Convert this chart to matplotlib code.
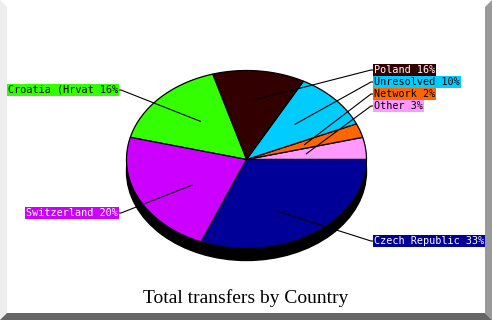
import numpy as np
import matplotlib
matplotlib.use("Agg")
from matplotlib import pyplot as plt
from matplotlib.patches import Polygon, Ellipse

# Slice data, counter-clockwise from 3 o'clock
names = ["Other", "Network", "Unresolved", "Poland", "Croatia (Hrvat", "Switzerland", "Czech Republic"]
values = [3, 2, 10, 16, 16, 20, 33]
colors = ["#ff99ff", "#ff6600", "#00ccff", "#330000", "#33ff00", "#cc00ff", "#000099"]
text_colors = ["black", "black", "black", "white", "black", "white", "white"]

title = "Total transfers by Country"

# Layout (pixel space, y down)
W, H = 492, 320
cx, cy = 246.5, 159.5
rx, ry = 120, 89
depth = 12
label_pos = {
    "Other": (374, 106, "left"),
    "Network": (374, 94, "left"),
    "Unresolved": (374, 82, "left"),
    "Poland": (374, 70, "left"),
    "Croatia (Hrvat": (118, 90, "right"),
    "Switzerland": (118, 213, "right"),
    "Czech Republic": (374, 241, "left"),
}


def ellipse_point(theta, scale=1.0):
    # point on ellipse at screen angle theta (radians)
    r = 1.0 / np.sqrt((np.cos(theta) / rx) ** 2 + (np.sin(theta) / ry) ** 2)
    return cx + scale * r * np.cos(theta), cy - scale * r * np.sin(theta)


fig = plt.figure(figsize=(W / 100, H / 100), dpi=100)
ax = fig.add_axes([0, 0, 1, 1])
ax.set_xlim(0, W)
ax.set_ylim(H, 0)
ax.axis("off")

# Frame bevel
ax.add_patch(Polygon([(0, 0), (7, 7), (7, 313), (0, 320)], closed=True, fc="#eeeeee", ec="none"))
ax.add_patch(Polygon([(W, 0), (W - 7, 7), (W - 7, 313), (W, H)], closed=True, fc="#999999", ec="none"))
ax.add_patch(Polygon([(0, H), (7, 313), (W - 7, 313), (W, H)], closed=True, fc="#666666", ec="none"))

# 3D shadow
ax.add_patch(Ellipse((cx, cy + depth), 2 * rx, 2 * ry, fc="black", ec="black", lw=1))

# Slices
fracs = np.array(values) / np.sum(values)
bounds = np.concatenate([[0], np.cumsum(fracs)]) * 2 * np.pi
for i, name in enumerate(names):
    a0, a1 = bounds[i], bounds[i + 1]
    t = np.linspace(a0, a1, max(int(np.degrees(a1 - a0)), 2) + 1)
    pts = [ellipse_point(a) for a in t]
    poly = [(cx, cy)] + pts
    ax.add_patch(Polygon(poly, closed=True, fc=colors[i], ec="black", lw=0.9, joinstyle="miter"))

# Labels and leader lines
for i, name in enumerate(names):
    mid = (bounds[i] + bounds[i + 1]) / 2
    ax_x, ax_y = cx + 60 * np.cos(mid), cy - 60 * np.sin(mid)
    lx, ly, ha = label_pos[name]
    stub = -3 if ha == "left" else 3
    ax.plot([ax_x, lx + stub, lx], [ax_y, ly, ly], color="black", lw=0.8)
    ax.text(lx, ly, "%s %d%%" % (name, values[i]), ha=ha, va="center",
            fontsize=7.3, family="DejaVu Sans Mono", color=text_colors[i],
            bbox=dict(boxstyle="square,pad=0.08", fc=colors[i], ec="none"))

ax.text(246, 298, title, ha="center", va="center", fontsize=14,
        family="Liberation Serif", color="black")

fig.savefig("out.png", dpi=100)
